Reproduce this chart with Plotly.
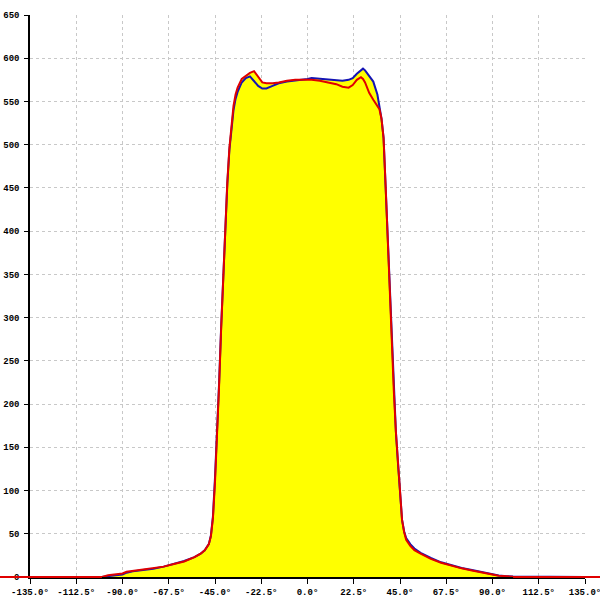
import plotly.graph_objects as go

angles = [-135, -100, -97, -93, -90, -88, -85, -80, -75, -70, -65, -60, -55, -52, -50,
          -48, -47, -46, -45, -44, -43, -42, -41, -40, -39, -38, -37, -36, -35, -34,
          -32, -30, -28, -26, -24, -22, -20, -17, -14, -10, -6, -2, 0, 2, 6, 10, 14,
          17, 20, 22, 24, 26, 27, 28, 30, 32, 34, 35, 36, 37, 38, 39, 40, 41, 42, 43,
          44, 45, 46, 47, 48, 50, 52, 55, 60, 65, 70, 75, 80, 85, 90, 93, 97, 100, 135]

blue_vals = [0, 0, 1, 2, 3, 5, 6.5, 8, 9.5, 12, 15, 18.5, 23, 27, 31,
             38, 48, 70, 115, 165, 225, 290, 350, 405, 455, 494, 522, 540, 553, 561,
             572, 577, 579, 574, 568, 565, 565, 568, 571, 573, 574, 575, 576, 577, 576, 575, 574,
             574, 575, 577, 582, 586, 588, 586, 580, 573, 558, 546, 530, 508, 453, 388, 330, 268, 215, 168,
             132, 98, 66, 53, 45, 38, 33, 28, 22, 17, 13.5, 10.5, 8, 5.5, 3.5, 1.8, 1, 0.5, 0]

red_vals = [0, 0, 2, 3, 4, 6, 7, 8.5, 10, 12, 15, 18, 23, 27, 31,
            38, 47, 68, 110, 162, 222, 288, 350, 405, 457, 496, 525, 545, 558, 566,
            576, 580, 583, 585, 578, 572, 571, 571, 572, 574, 575, 575, 575, 575, 574, 572, 570,
            567, 566, 569, 575, 578, 576, 572, 560, 552, 545, 541, 530, 508, 453, 388, 330, 268, 215, 168,
            132, 98, 66, 52, 43, 36, 31, 27, 21, 16.5, 13, 10, 7.5, 5, 3, 1.5, 0.8, 0.3, 0]

x_ticks = [-135.0, -112.5, -90.0, -67.5, -45.0, -22.5, 0.0, 22.5, 45.0, 67.5, 90.0, 112.5, 135.0]
x_tick_text = [f"{v:.1f}°" for v in x_ticks]
y_ticks = list(range(0, 651, 50))

BLUE = "#1414b4"
RED = "#e00000"
YELLOW = "#ffff00"
FONT = dict(family="Liberation Mono", size=9, color="black", weight="bold")

fig = go.Figure()
fig.add_trace(go.Scatter(x=angles, y=blue_vals, mode="lines", fill="tozeroy",
                         fillcolor=YELLOW, line=dict(width=0), hoverinfo="skip"))
fig.add_trace(go.Scatter(x=angles, y=red_vals, mode="lines", fill="tozeroy",
                         fillcolor=YELLOW, line=dict(width=0), hoverinfo="skip"))
fig.add_trace(go.Scatter(x=angles, y=blue_vals, mode="lines",
                         line=dict(color=BLUE, width=2)))
fig.add_trace(go.Scatter(x=angles, y=red_vals, mode="lines",
                         line=dict(color=RED, width=2)))

# red zero baseline extending beyond the plot area (where the red series is zero)
x_lo, x_hi = -135.0, 135.0
span = x_hi - x_lo
ML, MR, MT, MB = 30, 15, 15, 23
plot_w = 600 - ML - MR
left_edge = -ML / plot_w
right_edge = 1 + MR / plot_w
zero_start = (angles[1] - x_lo) / span
zero_end = (angles[-2] - x_lo) / span
fig.add_shape(type="line", xref="paper", yref="paper", x0=left_edge, x1=zero_start,
              y0=0, y1=0, line=dict(color=RED, width=2), layer="above")
fig.add_shape(type="line", xref="paper", yref="paper", x0=zero_end, x1=right_edge,
              y0=0, y1=0, line=dict(color=RED, width=2), layer="above")

fig.update_layout(
    width=600, height=600,
    margin=dict(l=ML, r=MR, t=MT, b=MB),
    paper_bgcolor="white", plot_bgcolor="white",
    showlegend=False,
    font=FONT,
    xaxis=dict(range=[x_lo, x_hi], tickvals=x_ticks, ticktext=x_tick_text,
               showgrid=True, gridcolor="#c8c8c8", griddash="3px,3px", gridwidth=1,
               showline=True, linecolor="black", linewidth=1.5,
               ticks="outside", ticklen=5, tickcolor="black", tickwidth=1,
               ticklabeloverflow="allow",
               zeroline=False, tickfont=FONT, automargin=False),
    yaxis=dict(range=[0, 650], tickvals=y_ticks,
               showgrid=True, gridcolor="#c8c8c8", griddash="3px,3px", gridwidth=1,
               showline=True, linecolor="black", linewidth=1.5,
               ticks="outside", ticklen=4, tickcolor="black", tickwidth=1,
               ticklabelstandoff=3, ticklabeloverflow="allow",
               zeroline=False, tickfont=FONT, automargin=False),
)

fig.write_html("out.html", config={"displayModeBar": False},
               post_script="document.body.style.margin='0';")
